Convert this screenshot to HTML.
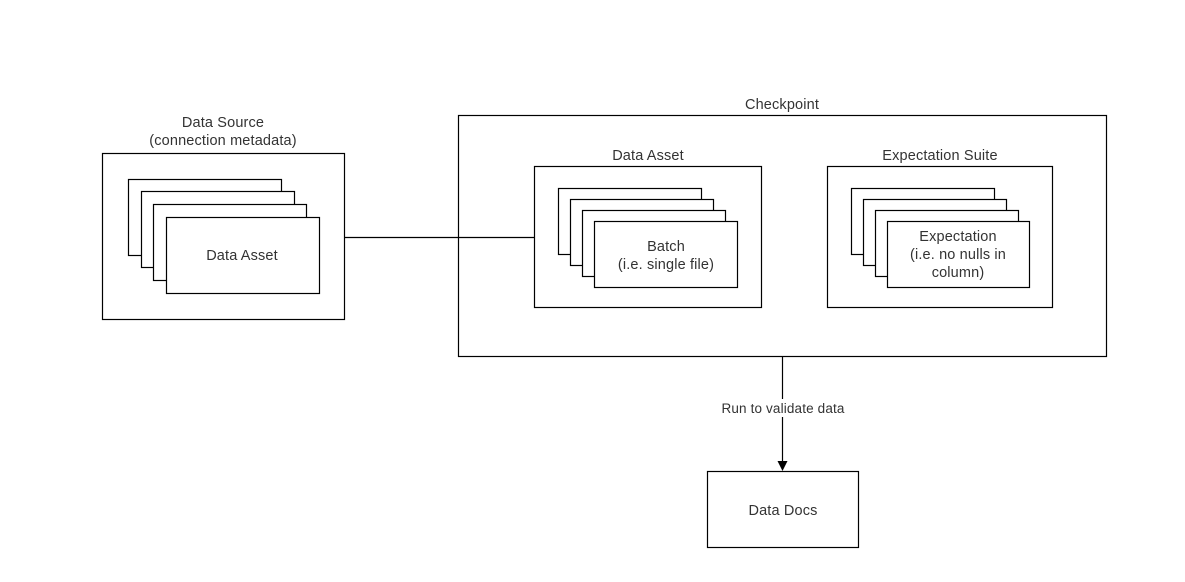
<!DOCTYPE html>
<html><head><style>
html,body{margin:0;padding:0;background:#fff;}
svg{display:block;}
text{font-family:"Liberation Sans",Arial,sans-serif;font-size:14.5px;fill:#333;text-anchor:middle;letter-spacing:0.15px;}
rect{fill:#fff;stroke:#000;stroke-width:1.2;}
</style></head><body>
<svg width="1185" height="582" viewBox="0 0 1185 582">
<!-- Data Source -->
<text x="223" y="127">Data Source</text>
<text x="223" y="145">(connection metadata)</text>
<rect x="102.5" y="153.5" width="242" height="166"/>
<rect x="128.5" y="179.5" width="153" height="76"/>
<rect x="141.5" y="191.5" width="153" height="76"/>
<rect x="153.5" y="204.5" width="153" height="76"/>
<rect x="166.5" y="217.5" width="153" height="76"/>
<text x="242" y="260">Data Asset</text>
<!-- Checkpoint -->
<text x="782" y="109">Checkpoint</text>
<rect x="458.5" y="115.5" width="648" height="241" style="fill:none"/>
<line x1="344.5" y1="237.5" x2="535" y2="237.5" stroke="#000" stroke-width="1.2"/>
<!-- Data Asset inner -->
<text x="648" y="160">Data Asset</text>
<rect x="534.5" y="166.5" width="227" height="141"/>
<rect x="558.5" y="188.5" width="143" height="66"/>
<rect x="570.5" y="199.5" width="143" height="66"/>
<rect x="582.5" y="210.5" width="143" height="66"/>
<rect x="594.5" y="221.5" width="143" height="66"/>
<text x="666" y="251">Batch</text>
<text x="666" y="269">(i.e. single file)</text>
<!-- Expectation Suite -->
<text x="940" y="160">Expectation Suite</text>
<rect x="827.5" y="166.5" width="225" height="141"/>
<rect x="851.5" y="188.5" width="143" height="66"/>
<rect x="863.5" y="199.5" width="143" height="66"/>
<rect x="875.5" y="210.5" width="143" height="66"/>
<rect x="887.5" y="221.5" width="142" height="66"/>
<text x="958" y="241">Expectation</text>
<text x="958" y="259">(i.e. no nulls in</text>
<text x="958" y="277">column)</text>
<!-- Arrow -->
<line x1="782.5" y1="357" x2="782.5" y2="462" stroke="#000" stroke-width="1.2"/>
<polygon points="777.5,461 787.5,461 782.5,471" fill="#000"/>
<rect x="716" y="399" width="134" height="18" style="fill:#fff;stroke:none"/>
<text x="783" y="413" style="font-size:13.5px">Run to validate data</text>
<!-- Data Docs -->
<rect x="707.5" y="471.5" width="151" height="76"/>
<text x="783" y="515">Data Docs</text>
</svg>
</body></html>
